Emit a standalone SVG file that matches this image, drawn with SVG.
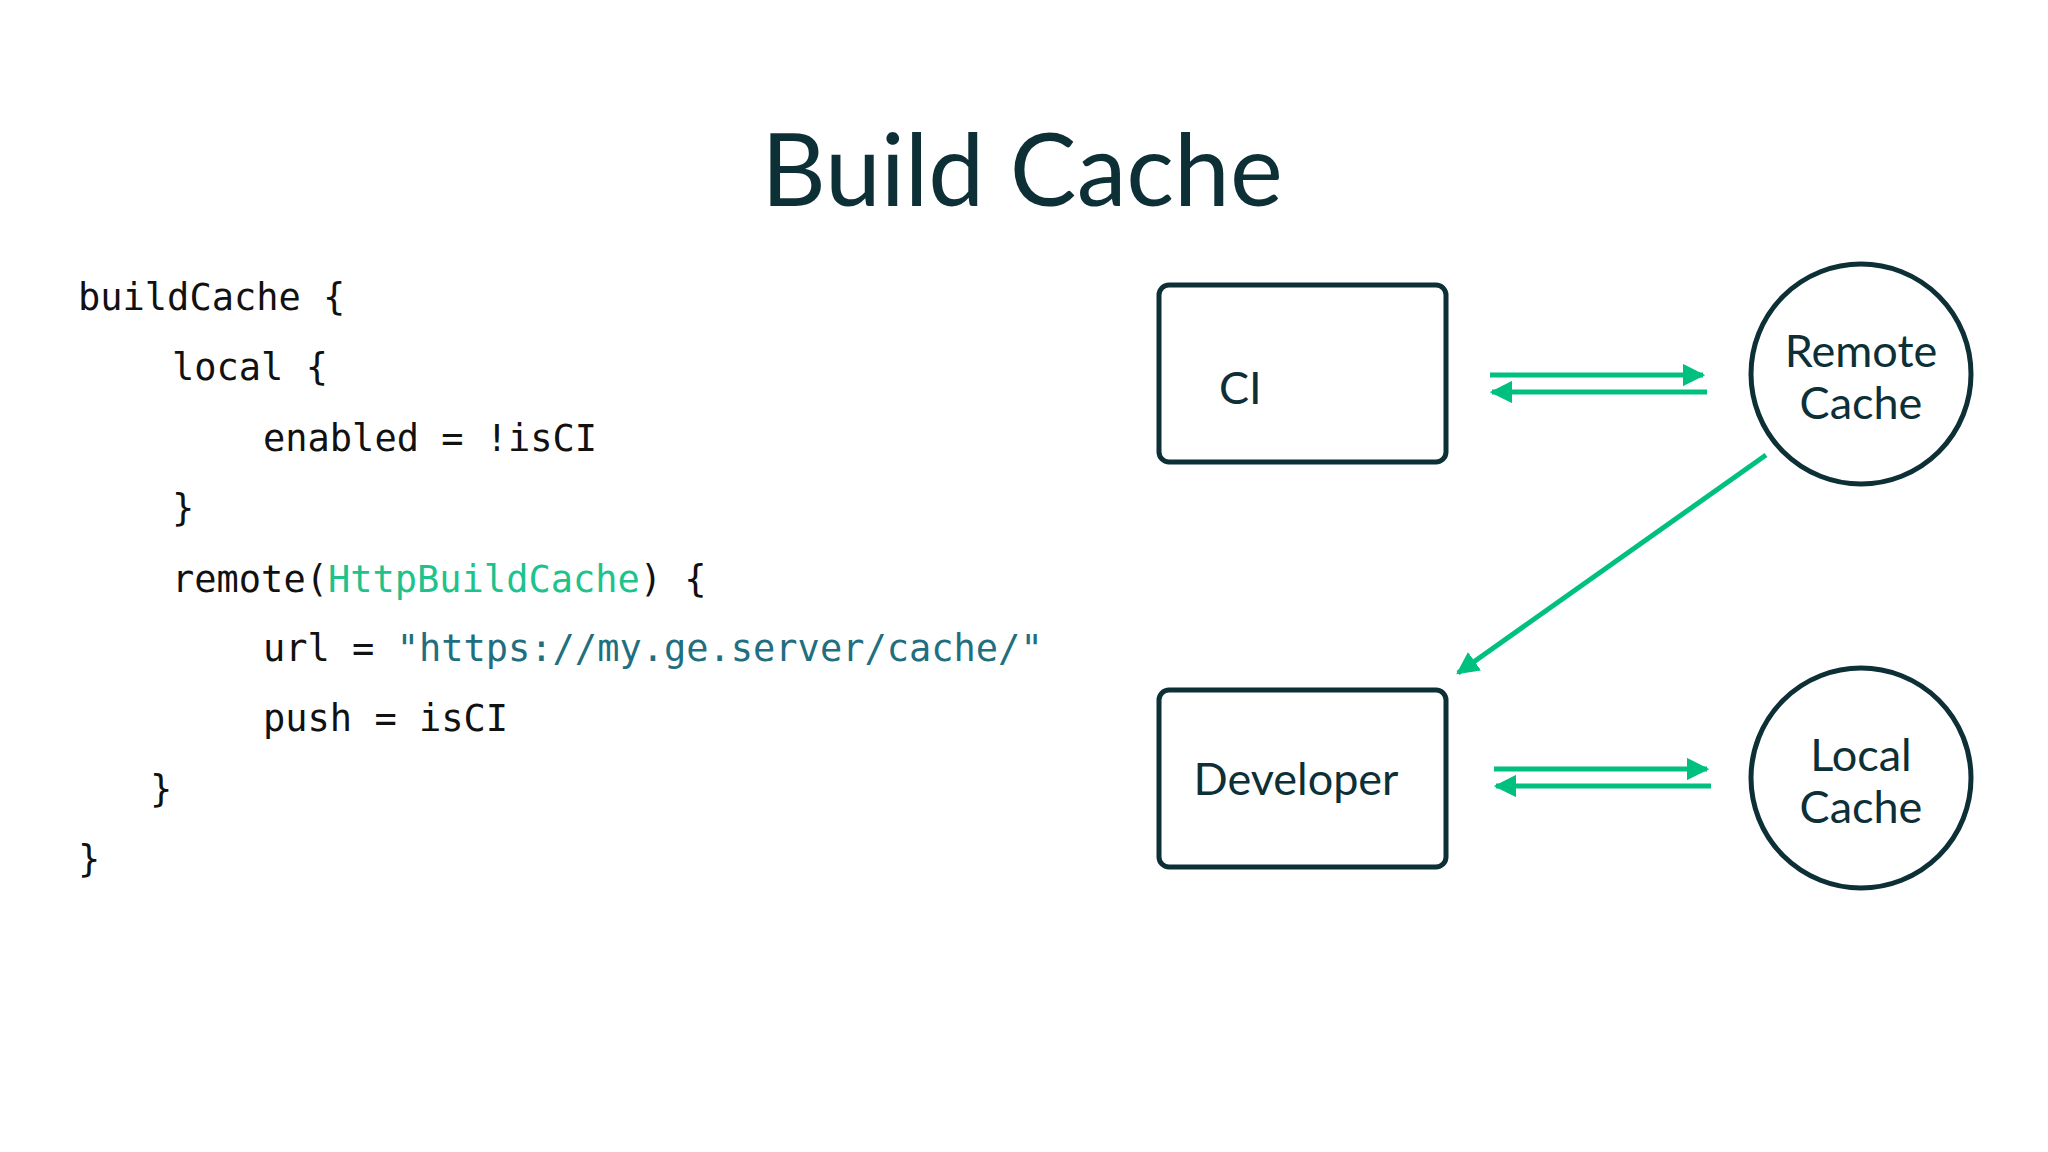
<svg xmlns="http://www.w3.org/2000/svg" width="2048" height="1152" viewBox="0 0 2048 1152">
<defs>
<style>
.code{font-family:"DejaVu Sans Mono",monospace;font-size:37px;fill:#111;}
.lbl{font-family:Lato,"Liberation Sans",sans-serif;font-size:45px;fill:#0d2f36;}
.box{fill:#fff;stroke:#0d2f36;stroke-width:5;}
.con{stroke:#00c07f;stroke-width:5;fill:none;}
</style>
<marker id="ah" viewBox="0 0 10 10" refX="9" refY="5" markerWidth="4.5" markerHeight="4.5" markerUnits="strokeWidth" orient="auto"><path d="M0,0L10,5L0,10z" fill="#00c07f"/></marker>
</defs>
<rect width="2048" height="1152" fill="#fff"/>
<text x="1022" y="206" text-anchor="middle" font-family="Lato,'Liberation Sans',sans-serif" font-size="100" fill="#0d2f36">Build Cache</text>
<g id="code">
<text class="code" x="78" y="310">buildCache {</text>
<text class="code" x="172" y="380">local {</text>
<text class="code" x="263" y="451">enabled = !isCI</text>
<text class="code" x="172" y="521">}</text>
<text class="code" x="172" y="592">remote(<tspan fill="#1ec28b">HttpBuildCache</tspan>) {</text>
<text class="code" x="263" y="661">url = <tspan fill="#1f6f80">"https://my.ge.server/cache/"</tspan></text>
<text class="code" x="263" y="731">push = isCI</text>
<text class="code" x="150" y="802">}</text>
<text class="code" x="78" y="872">}</text>
</g>
<g id="ci"><rect class="box" x="1159" y="285" width="287" height="177" rx="10"/><text class="lbl" x="1219" y="404">CI</text></g>
<g id="developer"><rect class="box" x="1159" y="690" width="287" height="177" rx="10"/><text class="lbl" x="1296" y="795" text-anchor="middle">Developer</text></g>
<g id="remote"><circle class="box" cx="1861" cy="374" r="110"/><text class="lbl" x="1861" y="367" text-anchor="middle">Remote</text><text class="lbl" x="1861" y="419" text-anchor="middle">Cache</text></g>
<g id="local"><circle class="box" cx="1861" cy="778" r="110"/><text class="lbl" x="1861" y="771" text-anchor="middle">Local</text><text class="lbl" x="1861" y="823" text-anchor="middle">Cache</text></g>
<g id="connectors">
<line class="con" x1="1490" y1="375" x2="1703" y2="375" marker-end="url(#ah)"/>
<line class="con" x1="1707" y1="392" x2="1492" y2="392" marker-end="url(#ah)"/>
<line class="con" x1="1494" y1="769" x2="1707" y2="769" marker-end="url(#ah)"/>
<line class="con" x1="1711" y1="786" x2="1496" y2="786" marker-end="url(#ah)"/>
<line class="con" x1="1766" y1="455" x2="1458" y2="673" marker-end="url(#ah)"/>
</g>
</svg>
